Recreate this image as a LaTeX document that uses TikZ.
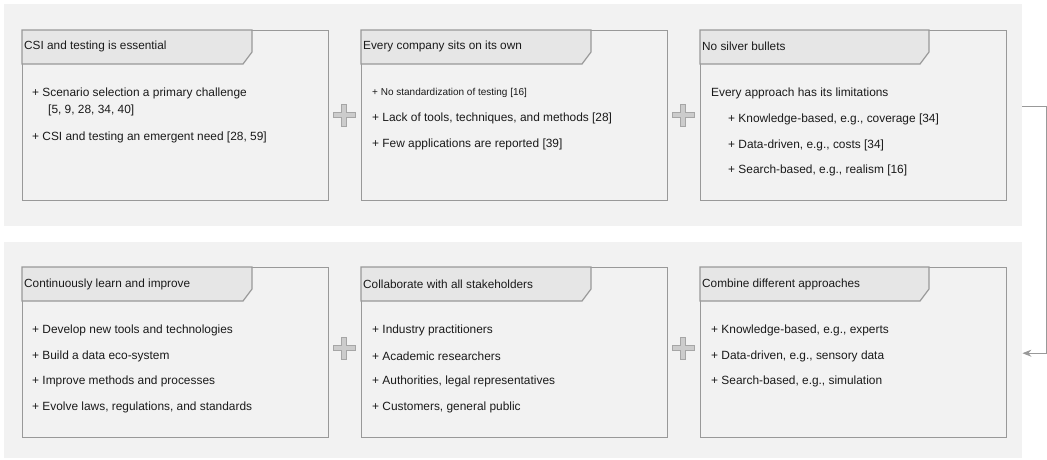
\documentclass[tikz,border=0pt]{standalone}
\usepackage{fontspec}
\setmainfont{Liberation Sans}
\usetikzlibrary{arrows.meta}
\definecolor{grpbg}{HTML}{F2F2F2}
\definecolor{boxline}{HTML}{999999}
\definecolor{tabfill}{HTML}{E6E6E6}
\definecolor{plusfill}{HTML}{CCCCCC}
\definecolor{plusline}{HTML}{A6A6A6}
\definecolor{txt}{HTML}{1A1A1A}
\tikzset{
  group/.style={fill=grpbg, draw=none, inner sep=0pt, anchor=north west, minimum width=1018pt},
  card/.style={draw=boxline, fill=grpbg, line width=1.2pt, inner sep=0pt, anchor=north west, minimum width=306pt, minimum height=170pt},
  tabshape/.style={draw=boxline, fill=tabfill, line width=1.2pt, line join=miter},
  head/.style={anchor=west, inner sep=0pt, font=\fontsize{11.8}{13}\selectfont, text=txt},
  item/.style={anchor=west, inner sep=0pt, font=\fontsize{11.9}{14}\selectfont, text=txt},
  smallitem/.style={anchor=west, inner sep=0pt, font=\fontsize{10}{12}\selectfont, text=txt},
  plussign/.style={fill=plusfill, draw=plusline, line width=0.8pt},
  conn/.style={draw=boxline, line width=1pt, -{Stealth[length=9pt,width=7pt,inset=3pt]}}
}
\newcommand{\plusat}[2]{%
  \filldraw[plussign] (#1-11,#2-2.7) -- (#1-2.7,#2-2.7) -- (#1-2.7,#2-11) -- (#1+2.7,#2-11) -- (#1+2.7,#2-2.7) -- (#1+11,#2-2.7) -- (#1+11,#2+2.7) -- (#1+2.7,#2+2.7) -- (#1+2.7,#2+11) -- (#1-2.7,#2+11) -- (#1-2.7,#2+2.7) -- (#1-11,#2+2.7) -- cycle;}
\newcommand{\tabon}[2]{%
  \draw[tabshape] (#1.north west) -- ++(#2,0) -- ++(0,22) -- ++(-9,12) -- ++(-#2+9,0) -- cycle;}
\begin{document}
\begin{tikzpicture}[x=1pt,y=-1pt]
\useasboundingbox (0,0) rectangle (1047,459);
\fill[white] (0,0) rectangle (1047,459);
% groups
\node[group, minimum height=222pt] (g1) at (4,4) {};
\node[group, minimum height=216pt] (g2) at (4,242) {};
% top cards
\node[card] (b1) at (22,30) {};
\node[card] (b2) at (361,30) {};
\node[card] (b3) at (700,30) {};
\tabon{b1}{230}
\tabon{b2}{230}
\tabon{b3}{229}
\node[head] (h1) at ([xshift=2pt,yshift=-16pt]b1.north west) {CSI and testing is essential};
\node[head] (h2) at ([xshift=2pt,yshift=-16pt]b2.north west) {Every company sits on its own};
\node[head] (h3) at ([xshift=2pt,yshift=-16pt]b3.north west) {No silver bullets};
% top card 1 items
\node[item] (t11) at (32,93) {+ Scenario selection a primary challenge};
\node[item] (t12) at (48,110) {[5, 9, 28, 34, 40]};
\node[item] (t13) at (32,137) {+ CSI and testing an emergent need [28, 59]};
% top card 2 items
\node[smallitem] (t21) at (372,93) {+ No standardization of testing [16]};
\node[item] (t22) at (372,118) {+ Lack of tools, techniques, and methods [28]};
\node[item] (t23) at (372,144) {+ Few applications are reported [39]};
% top card 3 items
\node[item] (t31) at (711,93) {Every approach has its limitations};
\node[item] (t32) at (728,119) {+ Knowledge-based, e.g., coverage [34]};
\node[item] (t33) at (728,145) {+ Data-driven, e.g., costs [34]};
\node[item] (t34) at (728,170) {+ Search-based, e.g., realism [16]};
% bottom cards
\node[card] (c1) at (22,267) {};
\node[card] (c2) at (361,267) {};
\node[card] (c3) at (700,267) {};
\tabon{c1}{230}
\tabon{c2}{230}
\tabon{c3}{229}
\node[head] (k1) at ([xshift=2pt,yshift=-17pt]c1.north west) {Continuously learn and improve};
\node[head] (k2) at ([xshift=2pt,yshift=-17pt]c2.north west) {Collaborate with all stakeholders};
\node[head] (k3) at ([xshift=2pt,yshift=-17pt]c3.north west) {Combine different approaches};
\node[item] (u11) at (32,330) {+ Develop new tools and technologies};
\node[item] (u12) at (32,356) {+ Build a data eco-system};
\node[item] (u13) at (32,381) {+ Improve methods and processes};
\node[item] (u14) at (32,407) {+ Evolve laws, regulations, and standards};
\node[item] (u21) at (372,330) {+ Industry practitioners};
\node[item] (u22) at (372,356) {+ Academic researchers};
\node[item] (u23) at (372,381) {+ Authorities, legal representatives};
\node[item] (u24) at (372,407) {+ Customers, general public};
\node[item] (u31) at (711,330) {+ Knowledge-based, e.g., experts};
\node[item] (u32) at (711,356) {+ Data-driven, e.g., sensory data};
\node[item] (u33) at (711,381) {+ Search-based, e.g., simulation};
% plus signs
\plusat{344}{115}
\plusat{683}{115}
\plusat{344}{348}
\plusat{683}{348}
% feedback connector
\draw[conn] ([yshift=9pt]g1.east) -- ++(24,0) |- ([yshift=-3pt]g2.east);
\end{tikzpicture}
\end{document}
